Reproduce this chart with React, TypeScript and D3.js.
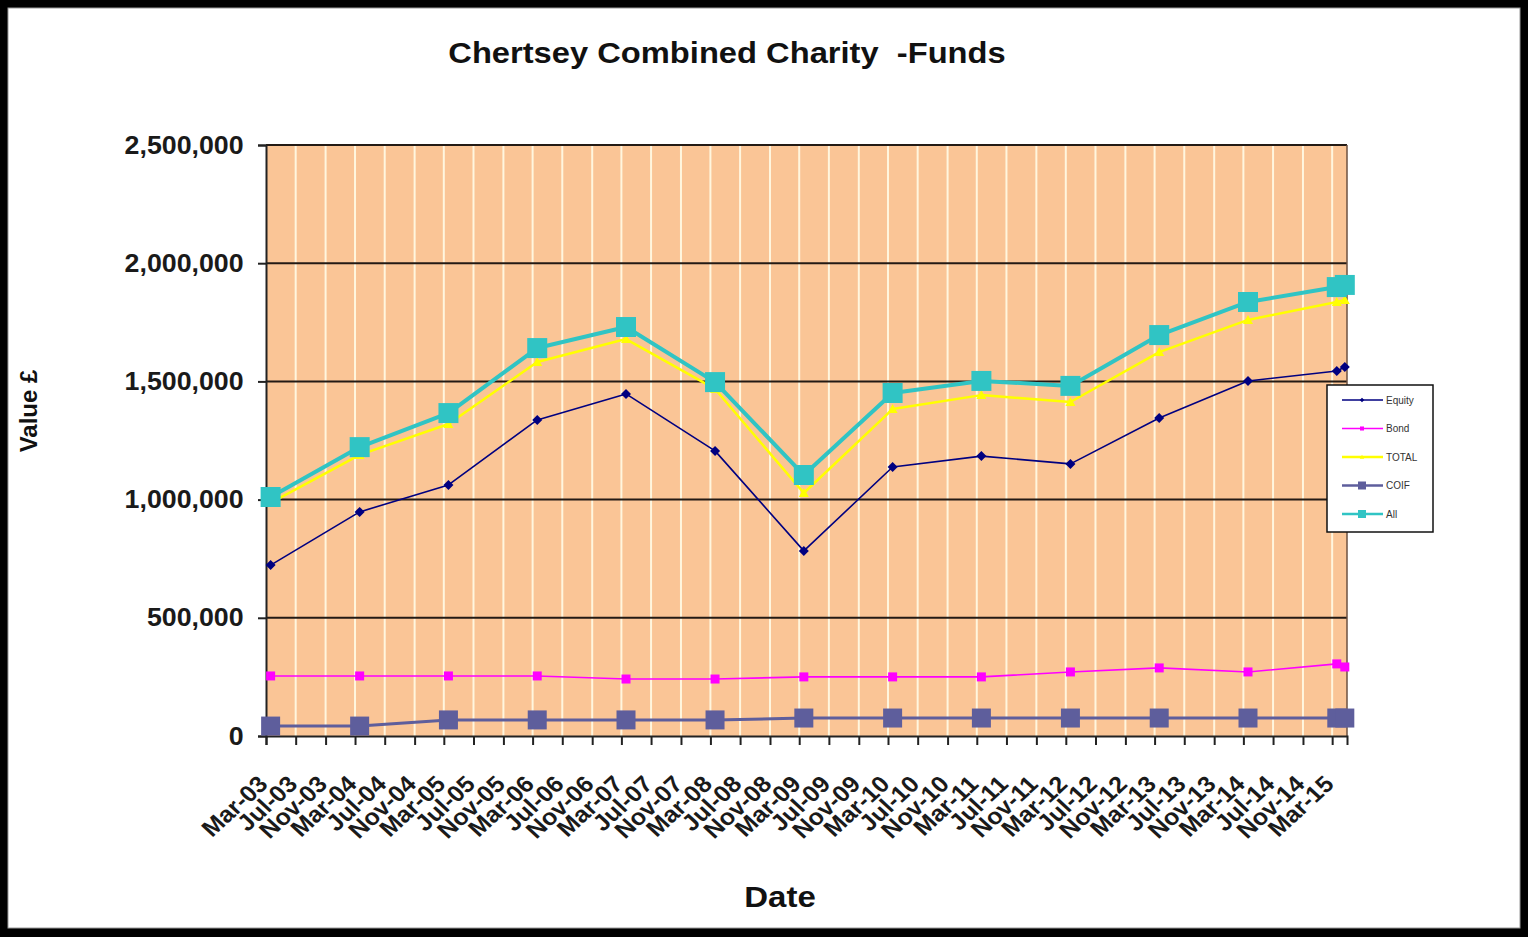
import React, { useEffect, useRef } from "react";
import * as d3 from "d3";

// valuation dates (one per year, plus an extra one in spring 2015)
const dates = [
  "2003-03-20", "2004-03-20", "2005-03-20", "2006-03-20", "2007-03-20",
  "2008-03-20", "2009-03-20", "2010-03-20", "2011-03-20", "2012-03-20",
  "2013-03-20", "2014-03-20", "2015-03-20", "2015-04-22",
];

const equity = [723000, 948000, 1062000, 1337000, 1447000, 1206000, 783000, 1138000, 1184000, 1151000, 1345000, 1502000, 1544000, 1561000];
const bond = [254000, 254000, 254000, 254000, 241000, 241000, 250000, 250000, 250000, 271000, 288000, 271000, 305000, 292000];
const total = [986000, 1189000, 1320000, 1582000, 1679000, 1468000, 1028000, 1383000, 1442000, 1413000, 1624000, 1760000, 1836000, 1844000];
const coif = [42000, 42000, 68000, 68000, 68000, 68000, 76000, 76000, 76000, 76000, 76000, 76000, 76000, 76000];
const all = [1011000, 1222000, 1366000, 1641000, 1730000, 1497000, 1104000, 1451000, 1502000, 1481000, 1696000, 1836000, 1899000, 1908000];

const seriesNames = ["Equity", "Bond", "TOTAL", "COIF", "All"];
const yTicks = [0, 500000, 1000000, 1500000, 2000000, 2500000];
const axisStart = "2003-03-01";
const axisEnd = "2015-05-01";

const W = 1528;
const H = 937;
const FONT = "'Liberation Sans', Arial, sans-serif";
const STRETCH = 1.09; // the original text is a bit wide

type Style = { color: string; width: number; marker: "diamond" | "square" | "triangle"; size: number };
const styles: Style[] = [
  { color: "#000080", width: 1.6, marker: "diamond", size: 10 },
  { color: "#ff00ff", width: 1.6, marker: "square", size: 9 },
  { color: "#ffff00", width: 2.5, marker: "triangle", size: 10 },
  { color: "#5e5e9c", width: 3, marker: "square", size: 19 },
  { color: "#30c4c4", width: 4, marker: "square", size: 20 },
];

function markerPath(kind: string, s: number) {
  const h = s / 2;
  if (kind === "diamond") return `M0,${-h}L${h},0L0,${h}L${-h},0Z`;
  if (kind === "triangle") return `M0,${-h}L${h},${h * 0.8}L${-h},${h * 0.8}Z`;
  return `M${-h},${-h}H${h}V${h}H${-h}Z`;
}

export default function App() {
  const ref = useRef<SVGSVGElement>(null);

  useEffect(() => {
    const svg = d3.select(ref.current);
    svg.selectAll("*").remove();

    const parse = d3.timeParse("%Y-%m-%d");
    const xs = dates.map((d) => parse(d) as Date);
    const data = [equity, bond, total, coif, all];

    // frame
    svg.append("rect").attr("width", W).attr("height", H).attr("fill", "#000");
    svg.append("rect").attr("x", 8).attr("y", 8).attr("width", 1512).attr("height", 920)
      .attr("fill", "#fff").attr("stroke", "#999").attr("stroke-width", 1);

    const left = 266, right = 1347, top = 145, bottom = 736;

    const x = d3.scaleTime()
      .domain([parse(axisStart) as Date, parse(axisEnd) as Date])
      .range([left, right]);
    const y = d3.scaleLinear().domain([0, 2500000]).range([bottom, top]);

    // plot area
    svg.append("rect").attr("x", left).attr("y", top).attr("width", right - left).attr("height", bottom - top)
      .attr("fill", "#fac596");

    const xTicks = d3.timeMonth.range(parse(axisStart) as Date, parse(axisEnd) as Date, 4);

    // vertical gridlines
    svg.append("g").selectAll("line").data(xTicks.slice(1)).enter().append("line")
      .attr("x1", (d) => x(d)).attr("x2", (d) => x(d))
      .attr("y1", top).attr("y2", bottom)
      .attr("stroke", "#fff6de").attr("stroke-width", 2);

    // horizontal gridlines
    svg.append("g").selectAll("line").data(yTicks.slice(1)).enter().append("line")
      .attr("x1", left).attr("x2", right)
      .attr("y1", (d) => y(d)).attr("y2", (d) => y(d))
      .attr("stroke", "#231a14").attr("stroke-width", 2);

    // right border of plot
    svg.append("line").attr("x1", right).attr("x2", right).attr("y1", top).attr("y2", bottom)
      .attr("stroke", "#6b5040").attr("stroke-width", 1.5);

    // y axis
    const yAxis = svg.append("g").attr("transform", `translate(${left},0)`)
      .call(d3.axisLeft(y).tickValues(yTicks).tickFormat(d3.format(",") as any).tickSize(8).tickPadding(13));
    yAxis.select(".domain").attr("stroke", "#222").attr("stroke-width", 2);
    yAxis.selectAll(".tick line").attr("stroke", "#222").attr("stroke-width", 2);
    yAxis.selectAll(".tick text")
      .attr("font-family", FONT).attr("font-size", 25).attr("font-weight", "bold").attr("fill", "#1a1a1a")
      .attr("transform", "scale(1.07,1)");

    // x axis
    const xAxis = svg.append("g").attr("transform", `translate(0,${bottom})`)
      .call(d3.axisBottom(x).tickValues(xTicks).tickFormat(d3.timeFormat("%b-%y") as any).tickSize(9));
    xAxis.select(".domain").attr("stroke", "#222").attr("stroke-width", 2);
    xAxis.selectAll(".tick line").attr("stroke", "#222").attr("stroke-width", 2);
    xAxis.selectAll(".tick text")
      .attr("font-family", FONT).attr("font-size", 23).attr("font-weight", "bold").attr("fill", "#1a1a1a")
      .attr("text-anchor", "end")
      .attr("y", 0).attr("dy", "0.71em")
      .attr("transform", `translate(-10,38) scale(${STRETCH},1) rotate(-45)`);

    // series
    data.forEach((vals, i) => {
      const st = styles[i];
      const line = d3.line<number>().x((_, j) => x(xs[j])).y((v) => y(v));
      svg.append("path").datum(vals).attr("d", line)
        .attr("fill", "none").attr("stroke", st.color).attr("stroke-width", st.width)
        .attr("stroke-linejoin", "round");
      svg.append("g").selectAll("path").data(vals).enter().append("path")
        .attr("d", markerPath(st.marker, st.size))
        .attr("transform", (v, j) => `translate(${x(xs[j])},${y(v)})`)
        .attr("fill", st.color);
    });

    // legend
    const lg = svg.append("g").attr("transform", "translate(1327,385)");
    lg.append("rect").attr("width", 106).attr("height", 147)
      .attr("fill", "#fff").attr("stroke", "#111").attr("stroke-width", 1.5);
    seriesNames.forEach((name, i) => {
      const st = styles[i];
      const ly = 15 + i * 28.5;
      lg.append("line").attr("x1", 15).attr("x2", 56).attr("y1", ly).attr("y2", ly)
        .attr("stroke", st.color).attr("stroke-width", Math.min(st.width, 2.5));
      lg.append("path").attr("d", markerPath(st.marker, Math.min(st.size * 0.45, 8)))
        .attr("transform", `translate(35,${ly})`).attr("fill", st.color);
      lg.append("text").attr("x", 59).attr("y", ly + 3.5).text(name)
        .attr("font-family", FONT).attr("font-size", 10).attr("fill", "#333");
    });

    // titles
    svg.append("text").attr("transform", `translate(727,63) scale(${STRETCH},1)`).attr("text-anchor", "middle")
      .attr("font-family", FONT).attr("font-size", 30).attr("font-weight", "bold").attr("fill", "#111")
      .attr("xml:space", "preserve").style("white-space", "pre")
      .text("Chertsey Combined Charity  -Funds");

    svg.append("text").attr("transform", "translate(780,907) scale(1.1,1)").attr("text-anchor", "middle")
      .attr("font-family", FONT).attr("font-size", 30).attr("font-weight", "bold").attr("fill", "#111")
      .text("Date");

    svg.append("text").attr("transform", "translate(37,411) rotate(-90)").attr("text-anchor", "middle")
      .attr("font-family", FONT).attr("font-size", 24).attr("font-weight", "bold").attr("fill", "#111")
      .text("Value £");
  }, []);

  return (
    <svg ref={ref} width={W} height={H}
      style={{ position: "absolute", left: 0, top: 0, display: "block" }} />
  );
}
